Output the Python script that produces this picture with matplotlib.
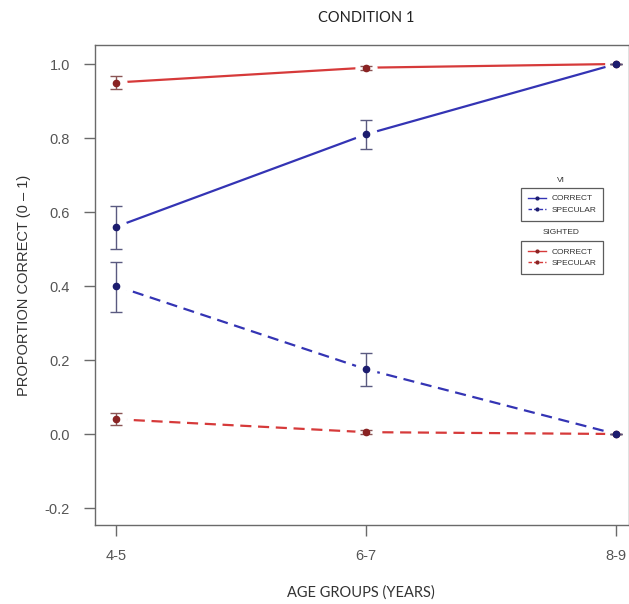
import matplotlib
matplotlib.use("Agg")
import matplotlib.pyplot as plt
from matplotlib.lines import Line2D

ages = ["4-5", "6-7", "8-9"]
vi_correct = [0.56, 0.81, 1.0]
vi_correct_lo = [0.50, 0.77, 1.0]
vi_correct_hi = [0.615, 0.85, 1.0]
vi_specular = [0.40, 0.175, 0.0]
vi_specular_lo = [0.33, 0.13, 0.0]
vi_specular_hi = [0.465, 0.22, 0.0]
sig_correct = [0.95, 0.99, 1.0]
sig_correct_lo = [0.933, 0.985, 1.0]
sig_correct_hi = [0.968, 0.995, 1.0]
sig_specular = [0.04, 0.005, 0.0]
sig_specular_lo = [0.025, 0.0, 0.0]
sig_specular_hi = [0.056, 0.01, 0.0]
yticks = [-0.2, 0.0, 0.2, 0.4, 0.6, 0.8, 1.0]

fig = plt.figure(figsize=(6.29, 6.04), dpi=100)
ax = fig.add_axes([95/629, 79/604, 1 - 95/629, (525-45)/604])
x = [1, 2, 3]

blue_line = "#3434b4"
blue_pt = "#1c1c6e"
red_line = "#d63a3a"
red_pt = "#8a2323"

def series(vals, lo, hi, lcol, pcol, ls):
    ax.plot(x, vals, color=lcol, lw=1.6, ls=ls, dashes=(5, 3) if ls == "--" else (None, None), zorder=2)
    # white disc to create the gaps around the points (R type="b")
    ax.plot(x, vals, ls="none", marker="o", ms=15, mfc="white", mec="white", zorder=2.5)
    yerr = [[v - l for v, l in zip(vals, lo)], [h - v for v, h in zip(vals, hi)]]
    ax.errorbar(x, vals, yerr=yerr, fmt="o", color=pcol, ms=4.5, mec=pcol,
                ecolor="#5a5a80" if pcol == blue_pt else "#8a5555",
                elinewidth=1.0, capsize=4, capthick=1.0, zorder=3)

series(sig_correct, sig_correct_lo, sig_correct_hi, red_line, red_pt, "-")
series(sig_specular, sig_specular_lo, sig_specular_hi, red_line, red_pt, "--")
series(vi_correct, vi_correct_lo, vi_correct_hi, blue_line, blue_pt, "-")
series(vi_specular, vi_specular_lo, vi_specular_hi, blue_line, blue_pt, "--")

ax.set_xlim(1 - 21/250, 3 + 13/250)
ax.set_ylim(-0.2 - 17/370, 1.0 + 19/370)
ax.set_xticks(x)
ax.set_xticklabels(ages)
ax.set_yticks(yticks)
ax.set_yticklabels([f"{t:.1f}" for t in yticks])
gray = "#6a6a6a"
for s in ax.spines.values():
    s.set_color(gray)
    s.set_linewidth(1.0)
ax.tick_params(axis="both", colors=gray, length=8, width=1.0, labelsize=10.5,
               labelcolor="#555555")
ax.tick_params(axis="x", pad=9)
ax.tick_params(axis="y", pad=10)
for lab in ax.get_xticklabels() + ax.get_yticklabels():
    lab.set_family("Liberation Sans")

ax.set_ylabel("PROPORTION CORRECT (0 \u2013 1)", family="Liberation Sans", fontsize=10.5,
              color="#333333", labelpad=10)
fig.text((95+629)/2/629 - 0.002, 1 - 593/604, "AGE GROUPS (YEARS)", family="Lato",
         fontsize=10.5, color="#333333", ha="center", va="center")
fig.text(366/629, 1 - 18/604, "CONDITION 1", family="Lato", fontsize=10.5,
         color="#222222", ha="center", va="center")

def legend(top_px, title, lcol, pcol):
    h = [Line2D([], [], color=lcol, lw=1.0, ls="-", marker="o", ms=2, mfc=pcol, mec=pcol),
         Line2D([], [], color=lcol, lw=1.0, ls="--", dashes=(2.5, 1.5), marker="o", ms=2, mfc=pcol, mec=pcol)]
    leg = fig.legend(h, ["CORRECT", "SPECULAR"], loc="upper left",
                     bbox_to_anchor=(521/629, 1 - top_px/604), bbox_transform=fig.transFigure,
                     fontsize=6, frameon=True, fancybox=False, handlelength=2.2,
                     handletextpad=0.7, borderpad=0.8, labelspacing=0.45, borderaxespad=0)
    leg.get_frame().set_edgecolor("#333333")
    leg.get_frame().set_linewidth(0.9)
    for t in leg.get_texts():
        t.set_family("Liberation Sans")
        t.set_color("#333333")
    fig.text(561/629, 1 - (top_px - 8)/604, title, family="Liberation Sans", fontsize=6,
             color="#333333", ha="center", va="center")

legend(188, "VI", blue_line, blue_pt)
legend(241, "SIGHTED", red_line, red_pt)

fig.savefig("out.png", dpi=100)
